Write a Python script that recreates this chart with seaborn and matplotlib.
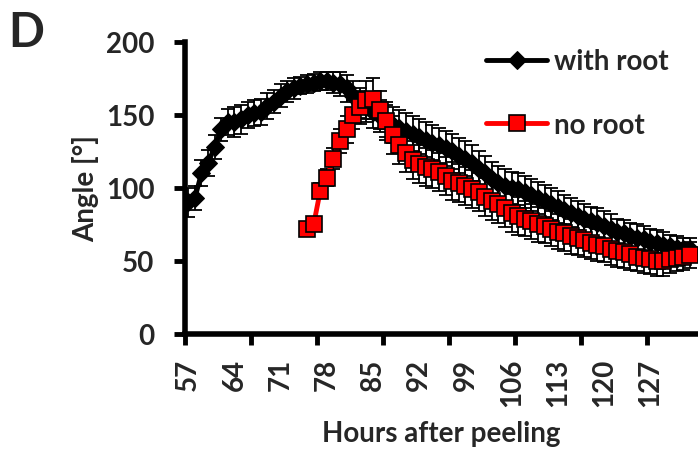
import numpy as np
import pandas as pd
import matplotlib
matplotlib.use("Agg")
import matplotlib.pyplot as plt
import seaborn as sns

# ================= data =================
hours_root = list(range(57, 134))
angle_root = [90, 93, 110, 117, 128, 140, 145, 145, 147, 150,
              151, 152, 156, 159, 163, 166, 168, 170, 171, 172,
              173, 173, 172, 171, 168, 163, 158, 155, 152, 149,
              146, 143, 141, 139, 137, 135, 133, 131, 129, 127,
              125, 122, 120, 117, 113, 110, 106, 103, 101, 100,
              99, 97, 95, 93, 91, 89, 87, 85, 83, 81,
              79, 77, 76, 74, 72, 70, 69, 67, 66, 65,
              63, 62, 61, 60, 59, 58, 58]
err_root = [10, 8, 9, 9, 8, 8, 9, 10, 10, 9,
            9, 9, 9, 8, 8, 7, 7, 6, 6, 6,
            6, 6, 7, 8, 9, 10, 10, 10, 11, 11,
            11, 12, 12, 12, 12, 12, 12, 12, 12, 12,
            12, 12, 12, 12, 12, 12, 12, 12, 12, 11,
            11, 11, 11, 11, 11, 11, 11, 10, 10, 10,
            10, 10, 10, 10, 10, 9, 9, 9, 9, 9,
            9, 9, 9, 8, 8, 8, 8]

hours_noroot = list(range(75, 134))
angle_noroot = [72, 75, 98, 107, 120, 132, 140, 150, 155, 160,
                161, 153, 146, 136, 129, 124, 119, 116, 114, 113,
                111, 108, 105, 103, 101, 99, 97, 94, 91, 89,
                86, 83, 81, 79, 77, 75, 74, 72, 70, 69,
                67, 66, 64, 62, 61, 60, 58, 57, 56, 55,
                53, 52, 51, 50, 50, 51, 52, 53, 54]
err_noroot = [4, 4, 5, 6, 7, 8, 9, 10, 11, 13,
              14, 13, 13, 13, 13, 13, 13, 13, 13, 13,
              13, 13, 13, 13, 13, 13, 13, 13, 13, 13,
              13, 13, 13, 12, 12, 12, 12, 12, 12, 12,
              12, 12, 11, 11, 11, 11, 11, 11, 11, 11,
              10, 10, 10, 10, 10, 9, 9, 9, 9]

x_labels = list(range(57, 128, 7))

# ================= plot =================
sns.set_theme(style="white")
plt.rcParams["font.family"] = ["Lato", "DejaVu Sans"]
plt.rcParams["font.weight"] = "bold"

df_root = pd.DataFrame({"Hours": hours_root, "Angle": angle_root})
df_noroot = pd.DataFrame({"Hours": hours_noroot, "Angle": angle_noroot})

fig = plt.figure(figsize=(6.98, 4.56), dpi=100)
ax = fig.add_axes([0.265, 0.2654, 0.735, 0.641])

ax.errorbar(hours_root, angle_root, yerr=err_root, fmt="none", ecolor="black",
            elinewidth=1.3, capsize=5, capthick=1.3, zorder=2)
sns.lineplot(data=df_root, x="Hours", y="Angle", ax=ax, color="black",
             linewidth=3.5, marker="D", markersize=9.5, markeredgecolor="black",
             label="with root", zorder=3)

ax.errorbar(hours_noroot, angle_noroot, yerr=err_noroot, fmt="none", ecolor="black",
            elinewidth=1.3, capsize=5, capthick=1.3, zorder=4)
sns.lineplot(data=df_noroot, x="Hours", y="Angle", ax=ax, color="#ff0000",
             linewidth=3.5, marker="s", markersize=11, markeredgecolor="black",
             markeredgewidth=1.2, label="no root", zorder=5)

ax.set_xlim(56.5, 56.5 + 513 / 6.6)
ax.set_ylim(0, 200)
ax.set_yticks([0, 50, 100, 150, 200])
ax.set_xticks(x_labels)
ax.set_xticklabels([str(v) for v in x_labels], rotation=90)
ax.set_xticks(np.arange(56.5, 134, 10), minor=True)

ax.tick_params(axis="x", which="major", length=0, pad=17, labelsize=20)
ax.tick_params(axis="x", which="minor", length=8, width=3.5, direction="out",
               bottom=True, color="black")
ax.tick_params(axis="y", which="major", length=8, width=3.5, direction="out",
               left=True, labelsize=20, pad=14, color="black")
for lab in ax.get_xticklabels() + ax.get_yticklabels():
    lab.set_fontweight("bold")

for side in ["top", "right"]:
    ax.spines[side].set_visible(False)
for side in ["left", "bottom"]:
    ax.spines[side].set_linewidth(4)
    ax.spines[side].set_color("black")

ax.set_xlabel("Hours after peeling", fontsize=20, fontweight="bold", labelpad=10)
ax.set_ylabel("Angle [°]", fontsize=20, fontweight="bold", labelpad=5)

leg = ax.legend(loc="upper right", bbox_to_anchor=(0.965, 1.015), frameon=False,
                fontsize=20, handlelength=2.2, handletextpad=0.25,
                labelspacing=1.35, borderaxespad=0)
for t in leg.get_texts():
    t.set_fontweight("bold")

fig.text(0.012, 0.975, "D", fontsize=34, fontweight="bold", va="top", ha="left")

fig.savefig("out.png", dpi=100)
